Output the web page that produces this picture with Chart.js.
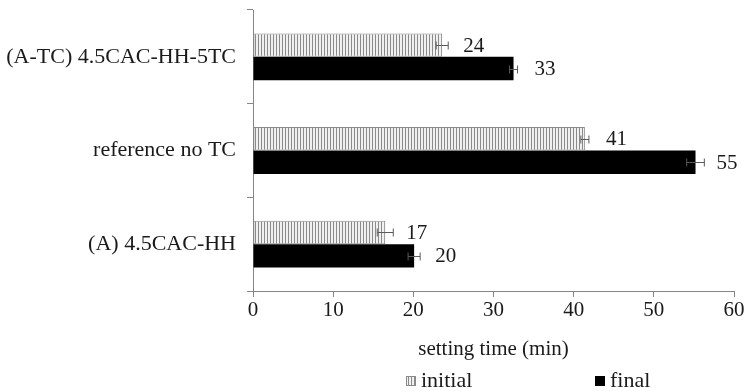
<!DOCTYPE html>
<html>
<head>
<meta charset="utf-8">
<script src="https://cdn.jsdelivr.net/npm/chart.js@4.4.1/dist/chart.umd.min.js"></script>
<style>
  html, body { margin: 0; padding: 0; background: #fff; }
  #wrap { width: 746px; height: 391px; }
</style>
</head>
<body>
<div id="wrap"><canvas id="chart"></canvas></div>
<script>
// setting times (min)
const categories = ['(A-TC) 4.5CAC-HH-5TC', 'reference no TC', '(A) 4.5CAC-HH'];
const initialTimes = [23.6, 41.4, 16.5];
const finalTimes = [32.5, 55.2, 20.1];
const initialErr = [0.75, 0.5, 1.0];
const finalErr = [0.5, 1.1, 0.75];
const xTicks = [0, 10, 20, 30, 40, 50, 60];

const FONT = 'Liberation Serif, Times New Roman, serif';
const TEXT = '#1a1a1a';
const AXIS = '#868686';

function makeHatch() {
    const c = document.createElement('canvas');
    c.width = 3;
    c.height = 4;
    const g = c.getContext('2d');
    g.fillStyle = '#f0f0f0';
    g.fillRect(0, 0, 3, 4);
    g.fillStyle = '#8a8a8a';
    g.fillRect(0, 0, 1, 4);
    return g.createPattern(c, 'repeat');
}

const errors = [initialErr, finalErr];

const errorBars = {
    id: 'errorBars',
    afterDatasetsDraw(chart) {
        const ctx = chart.ctx;
        const x = chart.scales.x;
        ctx.save();
        chart.data.datasets.forEach((ds, i) => {
            chart.getDatasetMeta(i).data.forEach((bar, j) => {
                const v = ds.data[j];
                const e = errors[i][j];
                const x0 = x.getPixelForValue(v - e);
                const x1 = x.getPixelForValue(v + e);
                const y = Math.round(bar.y) + 0.5;
                ctx.strokeStyle = '#5a5a5a';
                ctx.lineWidth = 1;
                ctx.beginPath();
                ctx.moveTo(x0, y); ctx.lineTo(x1, y);
                ctx.moveTo(x0, y - 4); ctx.lineTo(x0, y + 4);
                ctx.moveTo(x1, y - 4); ctx.lineTo(x1, y + 4);
                ctx.stroke();

                // value label
                ctx.fillStyle = TEXT;
                ctx.font = '21px ' + FONT;
                ctx.textAlign = 'left';
                ctx.textBaseline = 'middle';
                ctx.fillText(String(Math.round(v)), bar.x + 21, bar.y + 1);
            });
        });
        ctx.restore();
    }
};

const bottomLegend = {
    id: 'bottomLegend',
    afterDraw(chart) {
        const ctx = chart.ctx;
        const xs = [406, 595];
        const y = 381;
        ctx.save();
        ctx.font = '22px ' + FONT;
        ctx.textAlign = 'left';
        ctx.textBaseline = 'middle';
        chart.data.datasets.forEach((ds, i) => {
            ctx.fillStyle = ds.backgroundColor;
            ctx.fillRect(xs[i], y - 5, 10, 10);
            ctx.strokeStyle = ds.borderColor;
            ctx.lineWidth = 1;
            ctx.strokeRect(xs[i] + 0.5, y - 4.5, 9, 9);
            ctx.fillStyle = TEXT;
            ctx.fillText(ds.label, xs[i] + 15, y);
        });
        ctx.restore();
    }
};

new Chart(document.getElementById('chart'), {
    type: 'bar',
    data: {
        labels: categories,
        datasets: [{
            label: 'initial',
            data: initialTimes,
            backgroundColor: makeHatch(),
            borderColor: '#8a8a8a',
            borderWidth: 1,
            borderSkipped: false
        }, {
            label: 'final',
            data: finalTimes,
            backgroundColor: '#000000',
            borderColor: '#000000',
            borderWidth: 0
        }]
    },
    options: {
        indexAxis: 'y',
        responsive: true,
        maintainAspectRatio: false,
        animation: false,
        events: [],
        layout: { padding: { top: 10, right: 12, left: 0, bottom: 0 } },
        datasets: { bar: { categoryPercentage: 0.5, barPercentage: 1.0 } },
        plugins: {
            legend: { display: false },
            tooltip: { enabled: false }
        },
        scales: {
            x: {
                min: 0,
                max: 60,
                afterBuildTicks: (scale) => { scale.ticks = xTicks.map(v => ({ value: v })); },
                afterFit: (scale) => { scale.height = 100; },
                grid: { drawOnChartArea: false, drawTicks: true, tickLength: 6, color: AXIS },
                border: { color: AXIS },
                ticks: { color: TEXT, font: { family: FONT, size: 21 }, padding: 1 },
                title: {
                    display: true,
                    text: 'setting time (min)',
                    color: TEXT,
                    font: { family: FONT, size: 21 },
                    padding: { top: 0, bottom: 29 }
                }
            },
            y: {
                afterFit: (scale) => {
                    scale.width = 253;
                    scale.paddingTop = 0;
                    scale.paddingBottom = 0;
                },
                grid: { offset: true, drawOnChartArea: false, drawTicks: true, tickLength: 6, color: AXIS },
                border: { color: AXIS },
                ticks: { color: TEXT, font: { family: FONT, size: 22 }, padding: 11 }
            }
        }
    },
    plugins: [errorBars, bottomLegend]
});
</script>
</body>
</html>
